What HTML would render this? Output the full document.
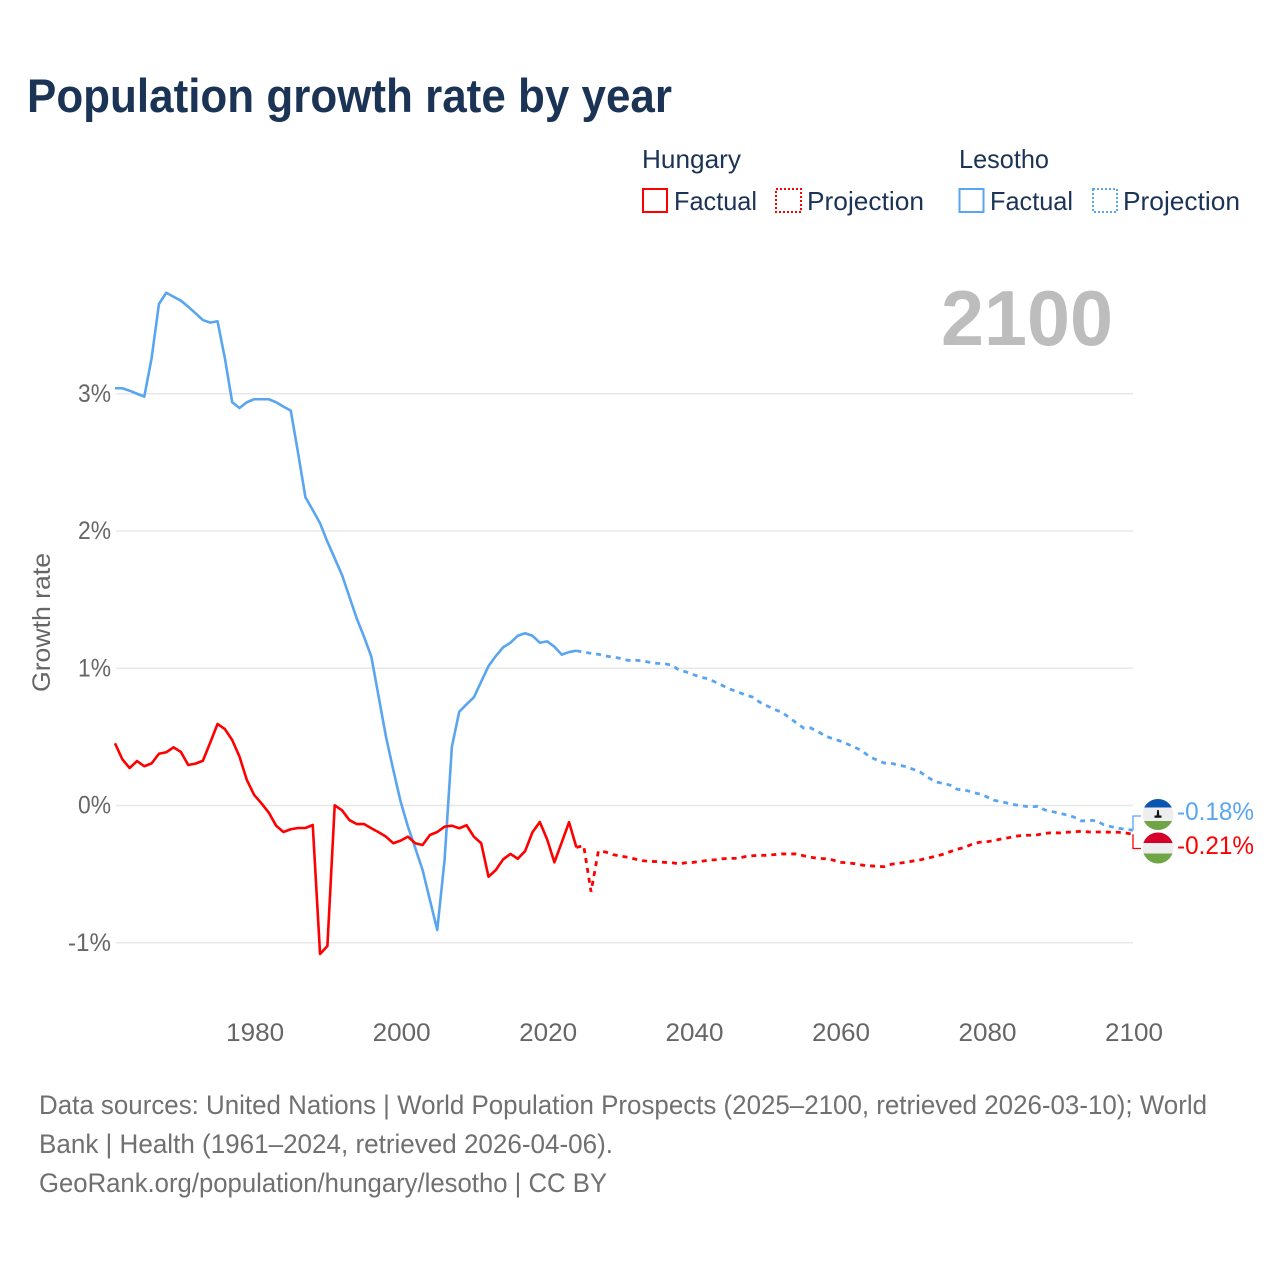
<!DOCTYPE html>
<html lang="en">
<head>
<meta charset="utf-8">
<title>Population growth rate by year</title>
<style>
html,body{margin:0;padding:0;background:#fff;}
svg{display:block;font-family:"Liberation Sans",sans-serif;}
</style>
</head>
<body>
<svg id="chart" width="1280" height="1280" viewBox="0 0 1280 1280" xmlns="http://www.w3.org/2000/svg">
<defs>
<clipPath id="clip-les"><circle cx="1158" cy="814.5" r="15.5"/></clipPath>
<clipPath id="clip-hun"><circle cx="1158" cy="848" r="15.5"/></clipPath>
</defs>
<rect x="0" y="0" width="1280" height="1280" fill="#fff"/>
<text x="27" y="112" font-size="47" font-weight="700" fill="#1b3355" textLength="645" lengthAdjust="spacingAndGlyphs">Population growth rate by year</text>

<g font-size="26" fill="#1b3355">
<text x="642" y="168" textLength="99" lengthAdjust="spacingAndGlyphs">Hungary</text>
<text x="959" y="168" textLength="90" lengthAdjust="spacingAndGlyphs">Lesotho</text>
<rect x="643" y="189" width="24" height="23" fill="none" stroke="#ff0000" stroke-width="2"/>
<text x="674" y="210" textLength="83" lengthAdjust="spacingAndGlyphs">Factual</text>
<rect x="776" y="189" width="25" height="23" fill="none" stroke="#ff0000" stroke-width="2" stroke-dasharray="2 2"/>
<text x="807" y="210" textLength="117" lengthAdjust="spacingAndGlyphs">Projection</text>
<rect x="959.5" y="189" width="24" height="23" fill="none" stroke="#5aa5ef" stroke-width="2"/>
<text x="990" y="210" textLength="83" lengthAdjust="spacingAndGlyphs">Factual</text>
<rect x="1093" y="189" width="24" height="23" fill="none" stroke="#5aa5ef" stroke-width="2" stroke-dasharray="2 2"/>
<text x="1123" y="210" textLength="117" lengthAdjust="spacingAndGlyphs">Projection</text>
</g>

<text x="941" y="345" font-size="78" font-weight="700" fill="#bdbdbd" textLength="172" lengthAdjust="spacingAndGlyphs">2100</text>

<g id="grid"></g>
<g id="yticks"></g>
<g id="xticks"></g>
<text transform="translate(50,692) rotate(-90)" x="0" y="0" font-size="25" fill="#666666" textLength="139" lengthAdjust="spacingAndGlyphs">Growth rate</text>
<g id="series"></g>

<g clip-path="url(#clip-les)">
<rect x="1142" y="799" width="32" height="8.5" fill="#0a55b0"/>
<rect x="1142" y="807.5" width="32" height="13.5" fill="#eeeeee"/>
<rect x="1142" y="821" width="32" height="9" fill="#6fa544"/>
<path d="M1157.2 810h1.6l.5 5.5h2.2v2.2h-7v-2.2h2.2z" fill="#111"/>
</g>
<g clip-path="url(#clip-hun)">
<rect x="1142" y="832" width="32" height="11" fill="#d4002a"/>
<rect x="1142" y="843" width="32" height="10.5" fill="#eeeeee"/>
<rect x="1142" y="853.5" width="32" height="11" fill="#6fa544"/>
</g>
<text id="end-lesotho" x="1177" y="820" font-size="25" fill="#5aa5ef" textLength="77" lengthAdjust="spacingAndGlyphs"></text>
<text id="end-hungary" x="1177" y="854" font-size="25" fill="#ff0000" textLength="77" lengthAdjust="spacingAndGlyphs"></text>

<g font-size="26.5" fill="#707070">
<text x="39" y="1114" textLength="1168" lengthAdjust="spacingAndGlyphs">Data sources: United Nations | World Population Prospects (2025–2100, retrieved 2026-03-10); World</text>
<text x="39" y="1153" textLength="574" lengthAdjust="spacingAndGlyphs">Bank | Health (1961–2024, retrieved 2026-04-06).</text>
<text x="39" y="1192" textLength="568" lengthAdjust="spacingAndGlyphs">GeoRank.org/population/hungary/lesotho | CC BY</text>
</g>
</svg>
<script>
const factualStartYear = 1961;
const projectionStartYear = 2024;
const yTicks = [3, 2, 1, 0, -1];
const yTickLabels = ["3%", "2%", "1%", "0%", "-1%"];
const xTicks = [1980, 2000, 2020, 2040, 2060, 2080, 2100];
const lesothoFactual = [3.04,3.04,3.022,3.0,2.979,3.26,3.654,3.736,3.707,3.678,3.634,3.586,3.537,3.518,3.528,3.26,2.938,2.896,2.938,2.96,2.96,2.96,2.938,2.906,2.877,2.568,2.246,2.153,2.056,1.922,1.801,1.679,1.521,1.364,1.23,1.084,0.793,0.501,0.259,0.028,-0.154,-0.31,-0.47,-0.689,-0.907,-0.397,0.428,0.683,0.737,0.788,0.902,1.016,1.089,1.153,1.186,1.237,1.255,1.237,1.186,1.196,1.157,1.099,1.118,1.128];
const lesothoProjection = [1.128,1.116,1.109,1.102,1.089,1.082,1.072,1.058,1.058,1.055,1.043,1.036,1.033,1.024,0.987,0.973,0.953,0.934,0.924,0.898,0.873,0.847,0.829,0.807,0.791,0.754,0.727,0.701,0.681,0.643,0.603,0.565,0.565,0.538,0.506,0.487,0.47,0.448,0.424,0.399,0.356,0.332,0.31,0.307,0.295,0.283,0.264,0.242,0.205,0.173,0.162,0.149,0.118,0.113,0.098,0.084,0.064,0.038,0.028,0.016,0.004,-0.004,-0.011,-0.006,-0.033,-0.045,-0.057,-0.069,-0.086,-0.113,-0.108,-0.111,-0.14,-0.154,-0.166,-0.173,-0.18];
const hungaryFactual = [0.453,0.337,0.273,0.324,0.286,0.307,0.377,0.388,0.424,0.39,0.295,0.305,0.326,0.458,0.594,0.557,0.477,0.356,0.186,0.077,0.016,-0.052,-0.147,-0.193,-0.173,-0.164,-0.164,-0.142,-1.082,-1.024,0.001,-0.035,-0.106,-0.135,-0.135,-0.166,-0.195,-0.227,-0.275,-0.256,-0.227,-0.275,-0.288,-0.215,-0.193,-0.154,-0.147,-0.166,-0.144,-0.227,-0.275,-0.519,-0.47,-0.392,-0.353,-0.388,-0.332,-0.195,-0.12,-0.246,-0.414,-0.268,-0.122,-0.305];
const hungaryProjection = [-0.305,-0.293,-0.628,-0.333,-0.339,-0.358,-0.368,-0.377,-0.39,-0.402,-0.407,-0.409,-0.414,-0.417,-0.424,-0.417,-0.414,-0.407,-0.399,-0.395,-0.388,-0.385,-0.385,-0.373,-0.366,-0.363,-0.363,-0.358,-0.353,-0.353,-0.353,-0.366,-0.377,-0.385,-0.388,-0.397,-0.414,-0.417,-0.424,-0.434,-0.439,-0.443,-0.446,-0.428,-0.421,-0.414,-0.404,-0.395,-0.383,-0.37,-0.356,-0.337,-0.319,-0.305,-0.283,-0.268,-0.264,-0.256,-0.244,-0.235,-0.224,-0.217,-0.217,-0.213,-0.203,-0.198,-0.2,-0.195,-0.191,-0.188,-0.193,-0.193,-0.193,-0.195,-0.195,-0.2,-0.21];

const NS = "http://www.w3.org/2000/svg";
const xScale = y => 115 + (y - 1961) * (1133 - 115) / 139;
const yScale = v => 805.5 - v * 137.25;
function mk(parent, tag, attrs, txt) {
  const el = document.createElementNS(NS, tag);
  for (const k in attrs) el.setAttribute(k, attrs[k]);
  if (txt !== undefined) el.textContent = txt;
  parent.appendChild(el);
  return el;
}
const gridG = document.getElementById("grid");
const yG = document.getElementById("yticks");
yTicks.forEach((t, i) => {
  const line = mk(gridG, "line", {x1: 116, x2: 1133, y1: yScale(t), y2: yScale(t), stroke: "#e8e8e8", "stroke-width": 1.5});
  
  
  const lab = mk(yG, "text", {x: 111, y: yScale(t) + 8, "font-size": 25, fill: "#666666", "text-anchor": "end", textLength: t < 0 ? 43 : 33, lengthAdjust: "spacingAndGlyphs"}, yTickLabels[i]);
  
  
});
const xG = document.getElementById("xticks");
xTicks.forEach(t => {
  const lab = mk(xG, "text", {x: xScale(t) + 1, y: 1041, "font-size": 25, fill: "#666666", "text-anchor": "middle", textLength: 58, lengthAdjust: "spacingAndGlyphs"}, String(t));
  
  
});
function pathFor(values, startYear) {
  return values.map((v, i) => (i ? "L" : "M") + xScale(startYear + i).toFixed(2) + " " + yScale(v).toFixed(2)).join("");
}
const seriesG = document.getElementById("series");
const lesF = mk(seriesG, "path", {d: pathFor(lesothoFactual, factualStartYear), fill: "none", stroke: "#5aa5ef", "stroke-width": 2.6, "stroke-linejoin": "round"});


const lesP = mk(seriesG, "path", {d: pathFor(lesothoProjection, projectionStartYear), fill: "none", stroke: "#5aa5ef", "stroke-width": 2.8, "stroke-dasharray": "5 5"});


const hunF = mk(seriesG, "path", {d: pathFor(hungaryFactual, factualStartYear), fill: "none", stroke: "#ff0000", "stroke-width": 2.6, "stroke-linejoin": "round"});


const hunP = mk(seriesG, "path", {d: pathFor(hungaryProjection, projectionStartYear), fill: "none", stroke: "#ff0000", "stroke-width": 2.8, "stroke-dasharray": "5 5"});



const lesEnd = lesothoProjection[lesothoProjection.length - 1];
const hunEnd = hungaryProjection[hungaryProjection.length - 1];
const lesLead = mk(seriesG, "path", {d: "M1133 " + yScale(lesEnd).toFixed(1) + "V816H1141", fill: "none", stroke: "#5aa5ef", "stroke-width": 1.3});


const hunLead = mk(seriesG, "path", {d: "M1133 " + yScale(hunEnd).toFixed(1) + "V848.5H1141", fill: "none", stroke: "#ff0000", "stroke-width": 1.3});


document.getElementById("end-lesotho").textContent = lesEnd.toFixed(2) + "%";
document.getElementById("end-hungary").textContent = hunEnd.toFixed(2) + "%";
</script>
</body>
</html>
